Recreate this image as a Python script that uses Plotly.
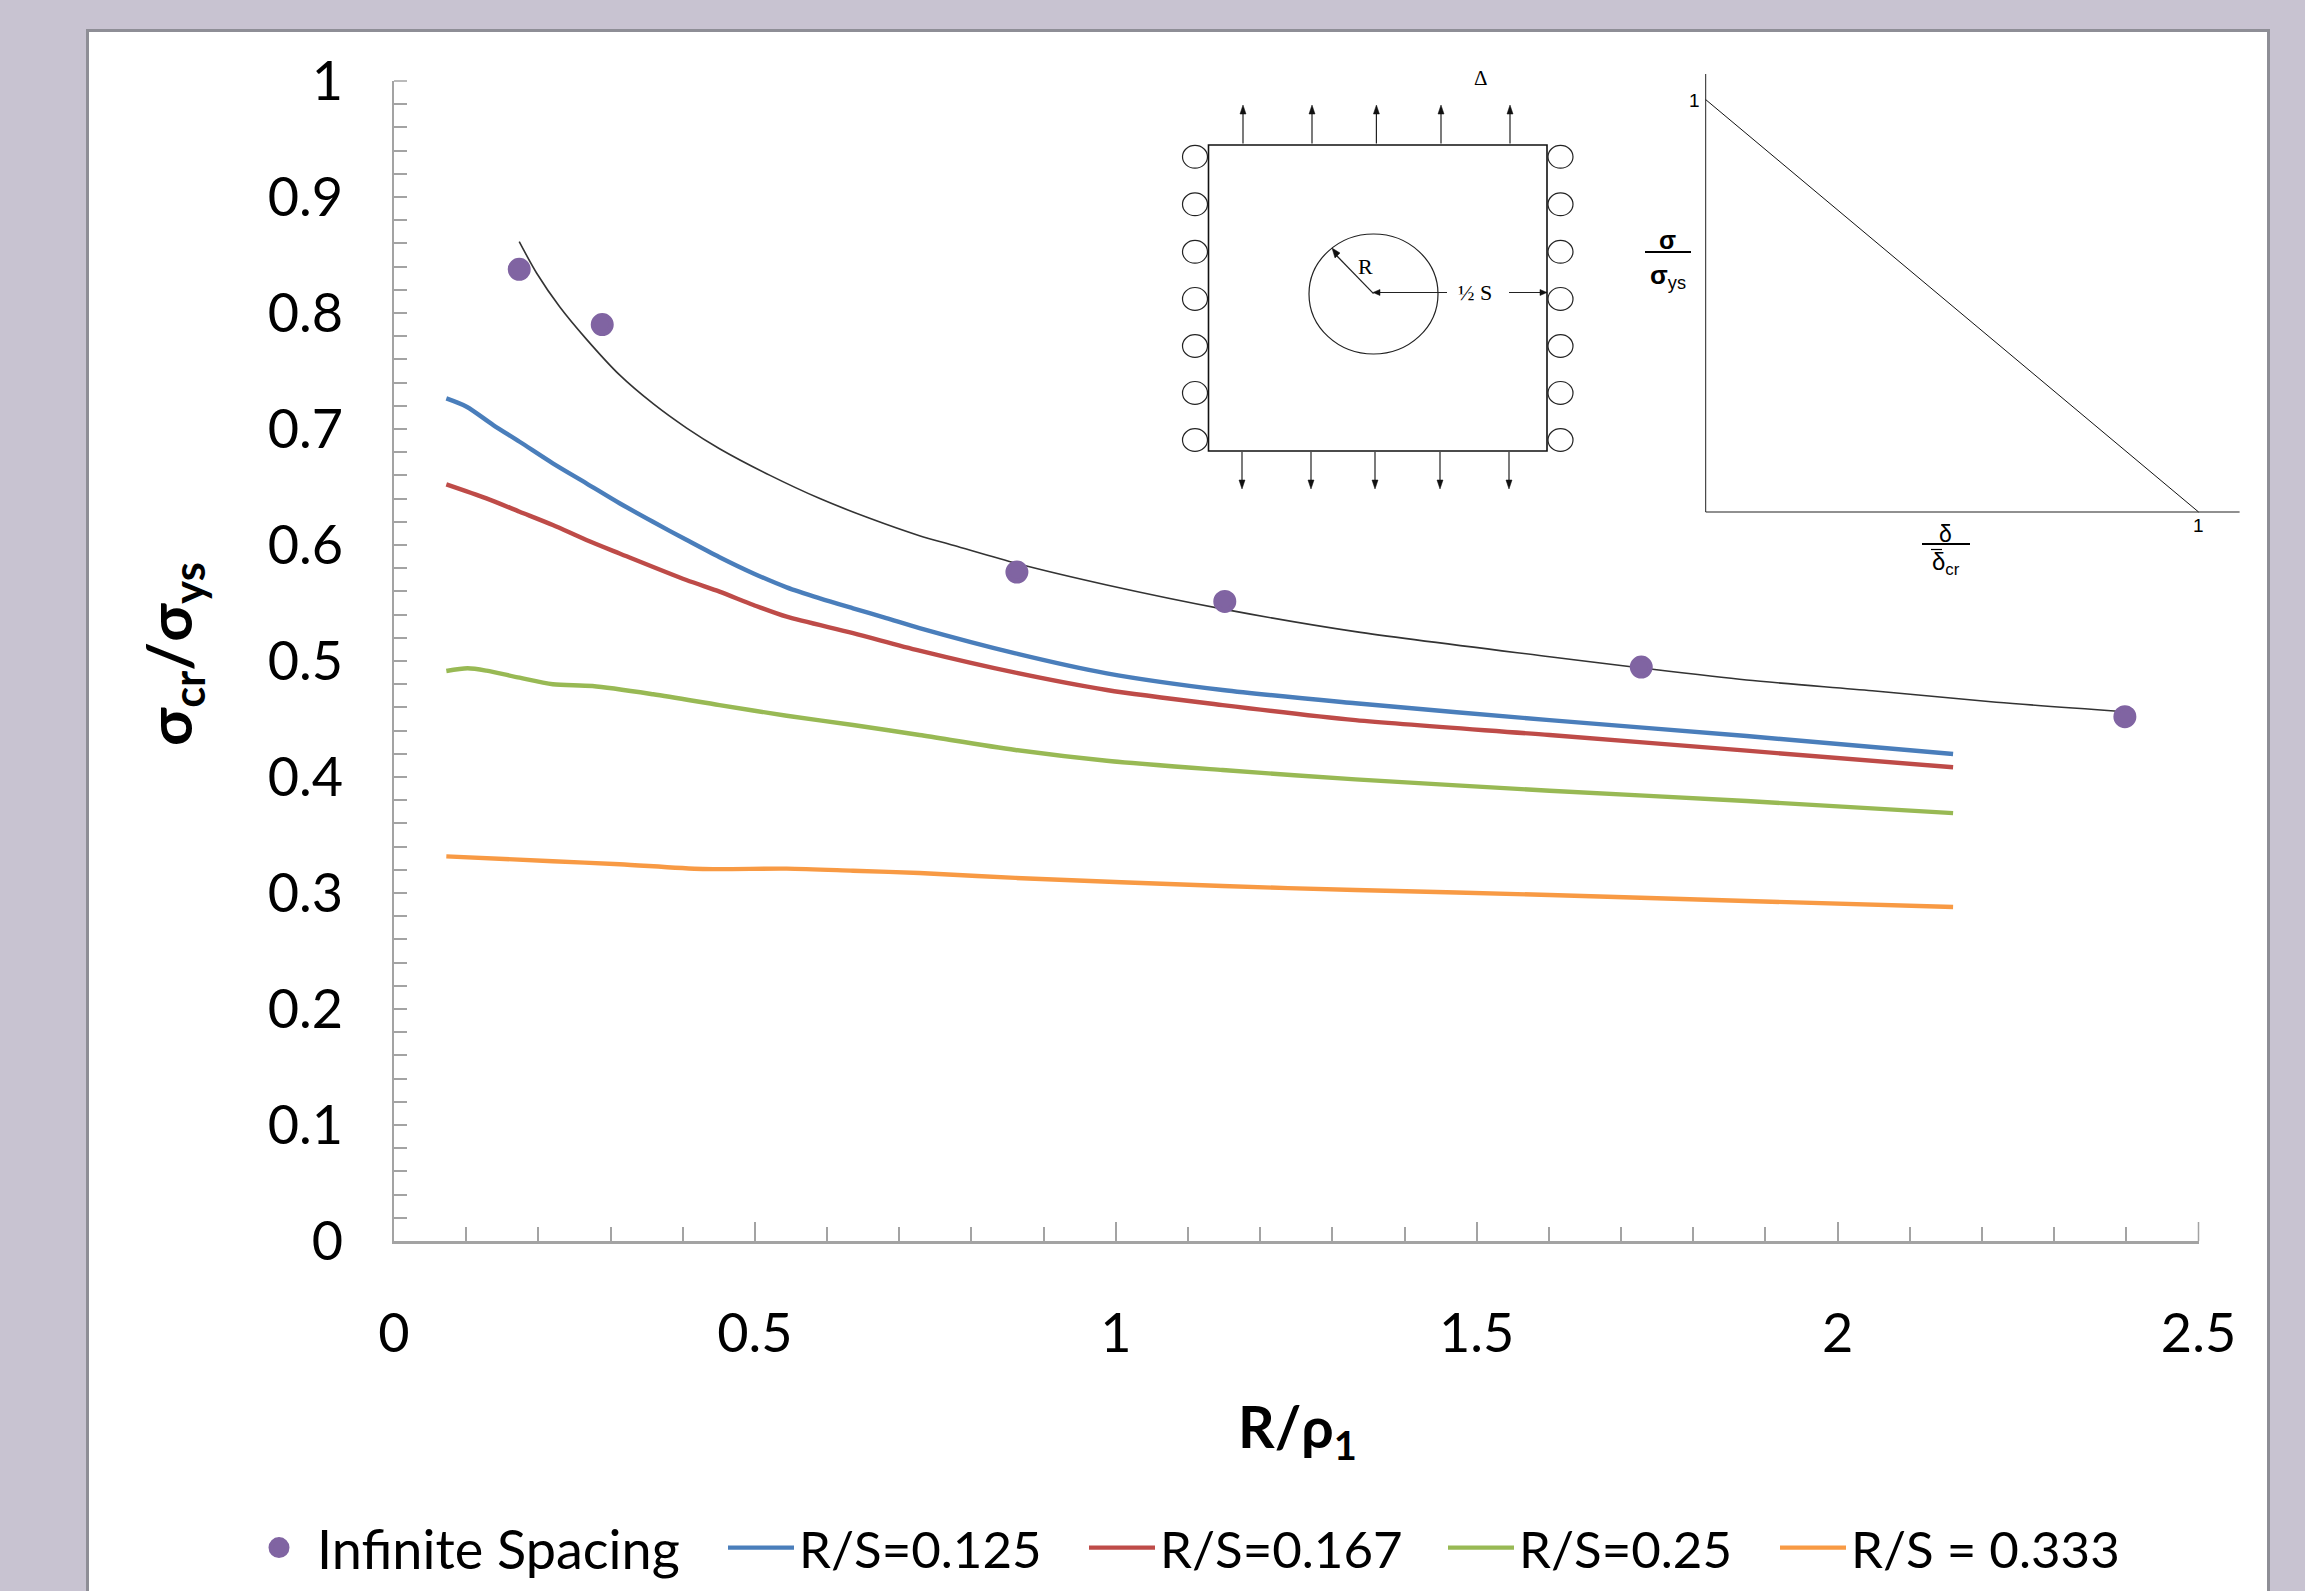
import plotly.graph_objects as go

W, H = 2305, 1591

# ---- data ----
inf_x = [0.1735, 0.2885, 0.863, 1.151, 1.728, 2.398]
inf_y = [0.8377, 0.790, 0.5767, 0.5514, 0.4948, 0.452]

trend_x = [0.1735, 0.1975, 0.2295, 0.2665, 0.3125, 0.359, 0.405, 0.451, 0.521, 0.59, 0.659, 0.728, 0.776, 0.863, 0.9875, 1.151, 1.332, 1.601, 1.728, 1.874, 2.048, 2.22, 2.398]
trend_y = [0.8615, 0.8345, 0.8054, 0.7775, 0.7466, 0.7218, 0.701, 0.683, 0.660, 0.640, 0.623, 0.608, 0.5995, 0.584, 0.5655, 0.5445, 0.5253, 0.5037, 0.494, 0.4836, 0.4744, 0.4645, 0.4563]

blue_x = [0.0725, 0.1006, 0.1375, 0.174, 0.22, 0.2665, 0.3125, 0.3587, 0.405, 0.451, 0.498, 0.544, 0.59, 0.636, 0.682, 0.728, 0.861, 0.9875, 1.148, 1.332, 1.601, 1.874, 2.16]
blue_y = [0.7264, 0.7192, 0.7034, 0.689, 0.6704, 0.6532, 0.636, 0.62, 0.6045, 0.5895, 0.5755, 0.5635, 0.554, 0.5454, 0.537, 0.5284, 0.5066, 0.4894, 0.475, 0.4636, 0.449, 0.4353, 0.4198]

red_x = [0.0725, 0.128, 0.174, 0.22, 0.2665, 0.3125, 0.405, 0.451, 0.498, 0.544, 0.636, 0.728, 0.861, 0.9875, 1.148, 1.332, 1.601, 1.874, 2.16]
red_y = [0.6523, 0.6402, 0.6287, 0.6172, 0.6043, 0.5927, 0.5698, 0.5598, 0.5483, 0.5382, 0.524, 0.5089, 0.4899, 0.475, 0.462, 0.449, 0.4362, 0.4227, 0.4084]

green_x = [0.0725, 0.102, 0.128, 0.174, 0.22, 0.275, 0.359, 0.451, 0.544, 0.636, 0.728, 0.861, 0.9875, 1.148, 1.332, 1.601, 1.874, 2.16]
green_y = [0.4914, 0.4937, 0.4917, 0.4856, 0.480, 0.4784, 0.4713, 0.462, 0.4528, 0.4448, 0.4362, 0.4233, 0.414, 0.406, 0.398, 0.3882, 0.3793, 0.3689]

orange_x = [0.0725, 0.22, 0.3125, 0.428, 0.544, 0.636, 0.728, 0.861, 1.148, 1.332, 1.601, 1.874, 2.16]
orange_y = [0.3316, 0.3274, 0.3248, 0.3207, 0.321, 0.3192, 0.3172, 0.313, 0.306, 0.3026, 0.2983, 0.2931, 0.2879]

x_ticks = [0, 0.5, 1, 1.5, 2, 2.5]
y_ticks = [0, 0.1, 0.2, 0.3, 0.4, 0.5, 0.6, 0.7, 0.8, 0.9, 1]
x_tick_labels = ["0", "0.5", "1", "1.5", "2", "2.5"]
y_tick_labels = ["0", "0.1", "0.2", "0.3", "0.4", "0.5", "0.6", "0.7", "0.8", "0.9", "1"]

names = ["Infinite Spacing", "R/S=0.125", "R/S=0.167", "R/S=0.25", "R/S = 0.333"]

# ---- style ----
BG = "#C8C3D1"
BORDER = "#8E8E96"
AX = "#A3A3A3"
PURPLE = "#8064A2"
BLUE = "#4A7EBB"
RED = "#BE4B48"
GREEN = "#98B954"
ORANGE = "#F89A44"
FONT = "Lato"
SERIF = "Liberation Serif"
SANS = "Liberation Sans"
TICK_SIZE = 54


def fx(p):
    return p / W


def fy(p):
    return 1 - p / H


fig = go.Figure()

fig.add_trace(go.Scatter(x=trend_x, y=trend_y, mode="lines", showlegend=False, hoverinfo="skip",
                         line=dict(color="#333333", width=1.6, shape="spline", smoothing=0.8)))

for xs, ys, name, col, lg in [
    (blue_x, blue_y, names[1], BLUE, "legend2"),
    (red_x, red_y, names[2], RED, "legend3"),
    (green_x, green_y, names[3], GREEN, "legend4"),
    (orange_x, orange_y, names[4], ORANGE, "legend5"),
]:
    fig.add_trace(go.Scatter(x=xs, y=ys, mode="lines", name=name, legend=lg,
                             line=dict(color=col, width=4.4, shape="spline", smoothing=0.8)))

fig.add_trace(go.Scatter(x=inf_x, y=inf_y, mode="markers", name=names[0], legend="legend",
                         marker=dict(color=PURPLE, size=18, line=dict(color=PURPLE, width=5))))

# ---- schematic insets, drawn in pixel-derived paper coordinates ----
shapes = []


def line(x0, y0, x1, y1, w=1.2, c="#222222"):
    shapes.append(dict(type="line", xref="paper", yref="paper", x0=fx(x0), y0=fy(y0), x1=fx(x1), y1=fy(y1),
                       line=dict(color=c, width=w)))


def tri(pts, c="#111111"):
    d = "M " + " L ".join(f"{fx(a):.5f},{fy(b):.5f}" for a, b in pts) + " Z"
    shapes.append(dict(type="path", xref="paper", yref="paper", path=d, fillcolor=c, line=dict(color=c, width=0.5)))


def ell(cx, cy, rx, ry, w=1.2):
    shapes.append(dict(type="circle", xref="paper", yref="paper", x0=fx(cx - rx), x1=fx(cx + rx),
                       y0=fy(cy + ry), y1=fy(cy - ry), line=dict(color="#222222", width=w)))


# panel
shapes.append(dict(type="rect", xref="paper", yref="paper", layer="below", x0=fx(87.5), x1=fx(2268.5), y0=-0.01, y1=fy(30.5),
                   fillcolor="#FFFFFF", line=dict(color=BORDER, width=3)))

# end ticks that the axis itself leaves out where they meet the frame of the plot
line(394, 81, 407, 81, 1.5, AX)
line(2198.5, 1241, 2198.5, 1222, 1.5, AX)

# plate
shapes.append(dict(type="rect", xref="paper", yref="paper", x0=fx(1208.5), x1=fx(1547), y0=fy(451), y1=fy(145),
                   line=dict(color="#111111", width=1.6)))
ell(1373.5, 294, 64.5, 60)
for yy in [156.8, 204.3, 251.8, 298.9, 346, 392.9, 440]:
    ell(1195, yy, 12.5, 11.4)
    ell(1560.5, yy, 12.5, 11.4)
for xx in [1243, 1312, 1376.4, 1441, 1510]:
    line(xx, 143.6, xx, 112)
    tri([(xx - 3, 114), (xx + 3, 114), (xx, 105)])
for xx in [1242, 1311, 1375, 1440, 1509]:
    line(xx, 452, xx, 482)
    tri([(xx - 3, 480), (xx + 3, 480), (xx, 489)])
# R arrow
line(1373.5, 293.6, 1336, 255)
tri([(1332, 248), (1340, 253), (1335, 258)])
# half-S arrows
line(1377, 292.5, 1447, 292.5)
tri([(1373, 292.5), (1380, 289.5), (1380, 295.5)])
line(1509, 292.5, 1542, 292.5)
tri([(1547, 292.5), (1540, 289.5), (1540, 295.5)])

# traction law
line(1705.7, 74, 1705.7, 512, 1)
line(1705.7, 512, 2239.6, 512, 1.2)
line(1705.7, 99.6, 2198.6, 512, 1, "#111111")
line(1645, 252, 1691, 252, 1.8, "#000000")
line(1922, 544, 1970, 544, 1.8, "#000000")
line(1941, 525, 1950, 525, 1.2, "#000000")
line(1931, 549.5, 1942, 549.5, 1.2, "#000000")

annotations = []


def txt(x, y, s, size, font=SANS, color="#000000", **kw):
    annotations.append(dict(xref="paper", yref="paper", x=fx(x), y=fy(y), text=s, showarrow=False,
                            xanchor="center", yanchor="middle", font=dict(family=font, size=size, color=color), **kw))


txt(1481, 78, "Δ", 21, SERIF)
txt(1365, 267, "R", 22, SERIF)
txt(1475, 292.5, "½ S", 22, SERIF)
txt(1694.7, 100, "1", 19)
txt(2198.6, 526, "1", 19)
txt(1667, 240, "<b>σ</b>", 25)
txt(1668, 276, "<b>σ</b><sub>ys</sub>", 26)
txt(1945.5, 534, "δ", 23)
txt(1945.5, 563, "δ<sub>cr</sub>", 24)

# axis titles
txt(172, 654, "<b>σ<sub>cr</sub>/σ<sub>ys</sub></b>", 62, FONT, textangle=-90)
txt(1297, 1430, "<b>R/ρ<sub>1</sub></b>", 57, FONT)


def legend_at(x, size=51, y=1548):
    return dict(x=fx(x), y=fy(y), xanchor="left", yanchor="middle", orientation="h",
                bgcolor="rgba(0,0,0,0)", borderwidth=0, font=dict(family=FONT, size=size, color="#000000"),
                itemwidth=66, traceorder="normal")


fig.update_layout(
    width=W, height=H,
    margin=dict(l=0, r=0, t=0, b=0, autoexpand=False),
    paper_bgcolor=BG, plot_bgcolor="rgba(0,0,0,0)",
    font=dict(family=FONT, color="#000000"),
    shapes=shapes, annotations=annotations,
    legend=legend_at(241, size=54), legend2=legend_at(723), legend3=legend_at(1084),
    legend4=legend_at(1443), legend5=legend_at(1775),
    xaxis=dict(domain=[394 / W, 2198.5 / W], range=[0, 2.5], tickmode="array", tickvals=x_ticks, ticktext=x_tick_labels,
               ticks="inside", ticklen=19, tickwidth=1.5, tickcolor=AX, showgrid=False, zeroline=False,
               showline=True, linecolor=AX, linewidth=3, automargin=False,
               ticklabelstandoff=43, tickfont=dict(family=FONT, size=TICK_SIZE),
               minor=dict(dtick=0.1, tick0=0, ticks="inside", ticklen=14, tickwidth=1.5, tickcolor=AX, showgrid=False)),
    yaxis=dict(domain=[1 - 1241 / H, 1 - 81 / H], range=[0, 1], tickmode="array", tickvals=y_ticks, ticktext=y_tick_labels,
               ticks="inside", ticklen=13, tickwidth=1.5, tickcolor=AX, showgrid=False, zeroline=False,
               showline=True, linecolor=AX, linewidth=2, automargin=False,
               ticklabelstandoff=38, tickfont=dict(family=FONT, size=TICK_SIZE),
               minor=dict(dtick=0.02, tick0=0, ticks="inside", ticklen=13, tickwidth=1.5, tickcolor=AX, showgrid=False)),
)

fig.write_html("out.html", config=dict(displayModeBar=False),
               post_script="document.body.style.margin='0';document.documentElement.style.overflow='hidden';")
